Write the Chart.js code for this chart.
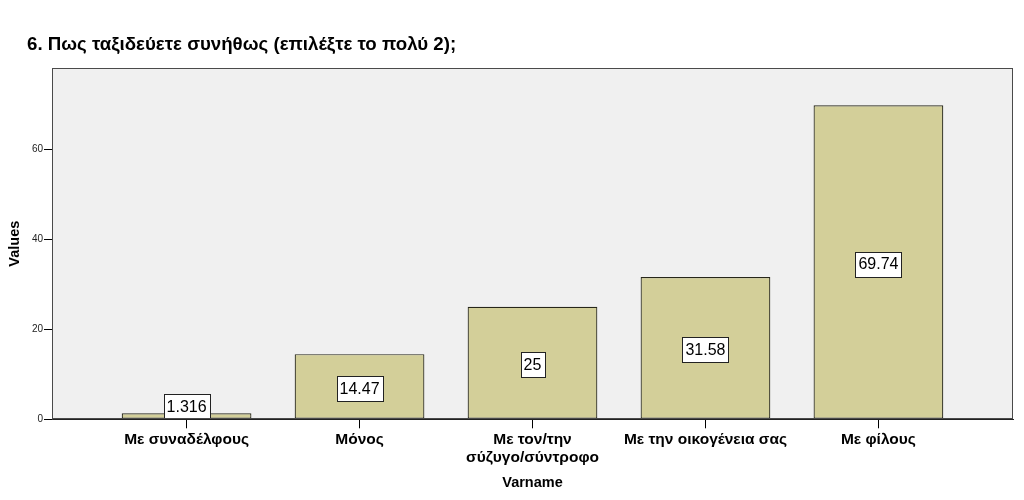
<!DOCTYPE html>
<html>
<head>
<meta charset="utf-8">
<script src="https://cdn.jsdelivr.net/npm/chart.js@4/dist/chart.umd.min.js"></script>
<style>
html,body{margin:0;padding:0;background:#fff;}
#wrap{width:1024px;height:500px;position:relative;}
</style>
</head>
<body>
<div id="wrap"><canvas id="c" width="1024" height="500"></canvas></div>
<script>
const titleText = '6. Πως ταξιδεύετε συνήθως (επιλέξτε το πολύ 2);';
const categories = [
  ['Με συναδέλφους'],
  ['Μόνος'],
  ['Με τον/την', 'σύζυγο/σύντροφο'],
  ['Με την οικογένεια σας'],
  ['Με φίλους']
];
const values = [1.316, 14.47, 25, 31.58, 69.74];
const valueLabels = ['1.316', '14.47', '25', '31.58', '69.74'];
const yTicks = [0, 20, 40, 60];
const xTitle = 'Varname';
const yTitle = 'Values';

const FONT = "Arial, 'Liberation Sans', sans-serif";

const plotBg = {
  id: 'plotBg',
  beforeDraw(chart) {
    const {ctx, chartArea: a} = chart;
    ctx.save();
    ctx.fillStyle = '#f0f0f0';
    ctx.fillRect(a.left, a.top, a.right - a.left, a.bottom - a.top);
    ctx.restore();
  },
  afterDraw(chart) {
    const {ctx, chartArea: a} = chart;
    ctx.save();
    ctx.strokeStyle = '#4a4a4a';
    ctx.lineWidth = 1;
    ctx.strokeRect(Math.round(a.left) + 0.5, Math.round(a.top) + 0.5,
                   Math.round(a.right - a.left) - 1, Math.round(a.bottom - a.top) - 1);
    ctx.restore();
  }
};

const titleShift = {
  id: 'titleShift',
  afterLayout(chart) {
    if (chart.titleBlock) chart.titleBlock.left = 27;
  }
};

const barLabels = {
  id: 'barLabels',
  afterDatasetsDraw(chart) {
    const {ctx} = chart;
    const meta = chart.getDatasetMeta(0);
    ctx.save();
    ctx.font = '16px ' + FONT;
    ctx.textAlign = 'center';
    ctx.textBaseline = 'middle';
    meta.data.forEach((bar, i) => {
      const txt = valueLabels[i];
      const w = Math.round(ctx.measureText(txt).width + 6);
      const h = 25;
      let cy = (bar.y + bar.base) / 2 + 2;
      if (cy + h / 2 > bar.base) cy = bar.base - h / 2;
      const x0 = Math.round(bar.x - w / 2) + 0.5;
      const y0 = Math.round(cy - h / 2) + 0.5;
      ctx.fillStyle = '#ffffff';
      ctx.fillRect(x0, y0, w, h);
      ctx.strokeStyle = '#222222';
      ctx.lineWidth = 1;
      ctx.strokeRect(x0, y0, w, h);
      ctx.fillStyle = '#000000';
      ctx.fillText(txt, bar.x, cy + 1);
    });
    ctx.restore();
  }
};

new Chart(document.getElementById('c'), {
  type: 'bar',
  data: {
    datasets: [{
      data: values.map((v, i) => ({x: i, y: v})),
      backgroundColor: '#d3cf99',
      borderColor: '#262619',
      borderWidth: 1.2,
      borderSkipped: false,
      barPercentage: 1,
      categoryPercentage: 0.75
    }]
  },
  options: {
    responsive: false,
    animation: false,
    devicePixelRatio: 1,
    layout: {padding: {left: 0, right: 11, top: 0, bottom: 0}},
    plugins: {
      legend: {display: false},
      tooltip: {enabled: false},
      title: {
        display: true,
        text: titleText,
        align: 'start',
        color: '#000',
        font: {family: FONT, size: 18.7, weight: 'bold', lineHeight: 1.2},
        padding: {top: 34, bottom: 11.6}
      }
    },
    scales: {
      x: {
        type: 'linear',
        offset: false,
        min: -0.778,
        max: 4.778,
        afterBuildTicks(axis) {
          axis.ticks = categories.map((c, i) => ({value: i}));
        },
        afterFit(axis) { axis.height = 80.7; },
        grid: {display: true, offset: false, drawOnChartArea: false, drawTicks: true, tickLength: 9, color: '#000', lineWidth: 1},
        border: {display: true, color: '#222', width: 1},
        ticks: {
          autoSkip: false,
          maxRotation: 0,
          padding: 3,
          color: '#000',
          font: {family: FONT, size: 15.5, weight: 'bold', lineHeight: 1.13},
          callback: (v) => categories[v]
        },
        title: {
          display: true,
          text: xTitle,
          color: '#000',
          font: {family: FONT, size: 14.5, weight: 'bold', lineHeight: 1.2},
          padding: {top: 0, bottom: 8}
        }
      },
      y: {
        min: 0,
        max: 78,
        afterBuildTicks(axis) {
          axis.ticks = yTicks.map(v => ({value: v}));
        },
        afterFit(axis) { axis.width = 52; },
        grid: {display: true, drawOnChartArea: false, drawTicks: true, tickLength: 8, color: '#000', lineWidth: 1},
        border: {display: true, color: '#3a3a3a', width: 1},
        ticks: {
          padding: 1,
          color: '#222',
          font: {family: FONT, size: 10}
        },
        title: {
          display: true,
          text: yTitle,
          color: '#000',
          font: {family: FONT, size: 14.5, weight: 'bold', lineHeight: 1.2},
          padding: {top: 6, bottom: 0}
        }
      }
    }
  },
  plugins: [plotBg, titleShift, barLabels]
});
</script>
</body>
</html>
